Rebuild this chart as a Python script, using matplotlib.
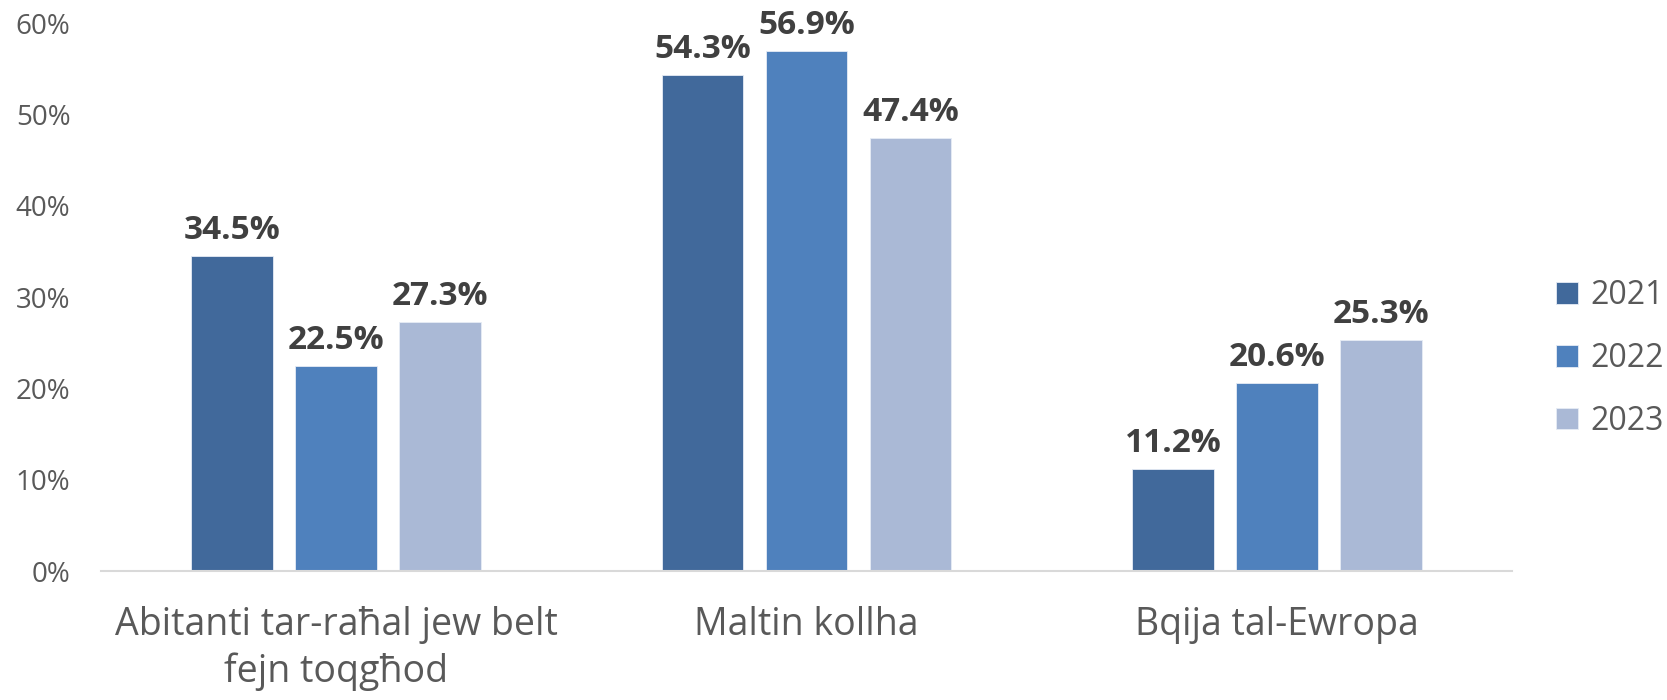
import matplotlib
matplotlib.use("Agg")
import matplotlib.pyplot as plt
import numpy as np
from matplotlib.ticker import FuncFormatter

categories = ["Abitanti tar-raħal jew belt\nfejn toqgħod", "Maltin kollha", "Bqija tal-Ewropa"]
years = ["2021", "2022", "2023"]
values_2021 = [34.5, 54.3, 11.2]
values_2022 = [22.5, 56.9, 20.6]
values_2023 = [27.3, 47.4, 25.3]
series = [values_2021, values_2022, values_2023]
colors = ["#41699B", "#4F81BD", "#AAB9D6"]

plt.rcParams['font.family'] = ['Open Sans', 'DejaVu Sans']

fig = plt.figure(figsize=(16.67, 7.0), dpi=100)
ax = fig.add_axes([0.0606, 0.184, 0.907 - 0.0606, 0.783])

x = np.arange(len(categories))
bw = 0.174
step = 0.221
for i, (vals, c, yr) in enumerate(zip(series, colors, years)):
    pos = x + (i - 1) * step
    ax.bar(pos, [v / 100 for v in vals], width=bw, color=c, label=yr,
           edgecolor="#E6ECF5", linewidth=0.6)
    for p, v in zip(pos, vals):
        ax.annotate(f"{v:.1f}%", (p, v / 100), xytext=(0, 6.5), textcoords="offset points",
                    ha="center", va="bottom", fontsize=24, fontweight="bold", color="#404040")

ax.set_xlim(-0.5, 2.5)
ax.set_ylim(0, 0.6)
ax.set_yticks(np.arange(0, 0.61, 0.1))
ax.yaxis.set_major_formatter(FuncFormatter(lambda v, p: f"{v*100:.0f}%"))
ax.set_xticks(x)
ax.set_xticklabels(categories, fontsize=27, color="#595959", linespacing=1.3)
ax.tick_params(axis="y", length=0, pad=22, labelsize=20, labelcolor="#595959")
ax.tick_params(axis="x", length=0, pad=25)
for s in ["top", "right", "left"]:
    ax.spines[s].set_visible(False)
ax.spines["bottom"].set_color("#D9D9D9")
ax.spines["bottom"].set_linewidth(1.5)

leg = fig.legend(loc="center left", bbox_to_anchor=(0.9335, 0.488), frameon=False,
                 fontsize=23, handlelength=0.67, handleheight=0.67, handletextpad=0.4,
                 labelspacing=0.93, borderaxespad=0, borderpad=0)
for t in leg.get_texts():
    t.set_color("#595959")

fig.savefig("out.png", dpi=100)
